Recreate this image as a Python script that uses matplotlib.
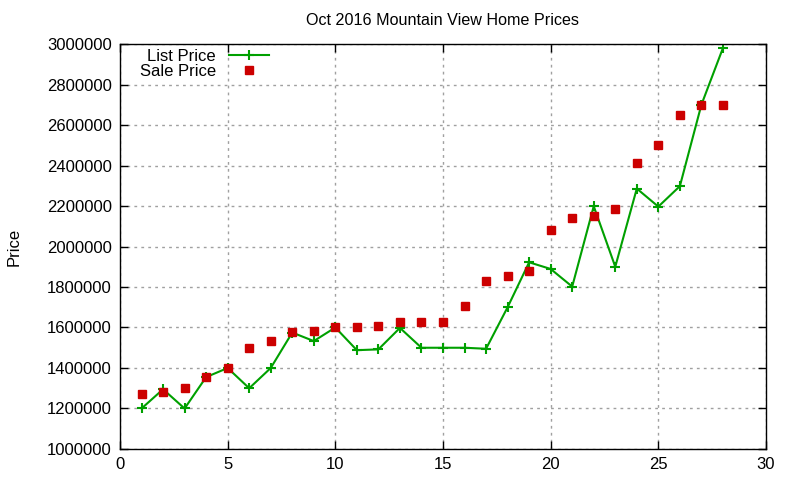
import matplotlib
matplotlib.use('Agg')
import matplotlib.pyplot as plt
from matplotlib.ticker import MultipleLocator, FormatStrFormatter

plt.rcParams['font.family'] = ['Liberation Sans', 'DejaVu Sans']

days = list(range(1, 29))
list_price = [1200000, 1295000, 1200000, 1355000, 1400000, 1300000, 1400000,
              1575000, 1533000, 1600000, 1488000, 1492000, 1598000, 1500000,
              1500000, 1500000, 1495000, 1700000, 1922000, 1889000, 1802000,
              2199000, 1900000, 2286000, 2197000, 2298000, 2700000, 2980000]
sale_price = [1274000, 1279000, 1303000, 1357000, 1402000, 1501000, 1531000,
              1576000, 1581000, 1600000, 1600000, 1605000, 1625000, 1625000,
              1625000, 1704000, 1828000, 1853000, 1878000, 2081000, 2140000,
              2150000, 2184000, 2411000, 2501000, 2650000, 2700000, 2700000]

fig = plt.figure(figsize=(8, 4.8), dpi=100)
ax = fig.add_axes([0.15, 0.0646, 0.8075, 0.8437])

ax.plot(days, list_price, color='#00a000', lw=1.5, marker='+', ms=7, mew=1.5,
        label='List Price')
ax.plot(days, sale_price, ls='none', color='#cc0000', marker='s', ms=5.5,
        label='Sale Price')

ax.set_xlim(0, 30)
ax.set_ylim(1000000, 3000000)
ax.xaxis.set_major_locator(MultipleLocator(5))
ax.yaxis.set_major_locator(MultipleLocator(200000))
ax.yaxis.set_major_formatter(FormatStrFormatter('%d'))
ax.tick_params(direction='in', top=True, right=True, length=6, width=1,
               labelsize=12, pad=6)
ax.grid(True, color='#a0a0a0', linestyle=(0, (2, 3)), lw=1)
for s in ax.spines.values():
    s.set_linewidth(1)

ax.set_title('Oct 2016 Mountain View Home Prices', fontsize=11.6, pad=14)
ax.set_ylabel('Price', fontsize=12, labelpad=18)

ax.legend(loc='upper left', frameon=False, markerfirst=False, fontsize=12,
          handlelength=2.4, borderaxespad=0.0, labelspacing=0.0,
          bbox_to_anchor=(0.02, 1.005))

fig.savefig('out.png', dpi=100)
